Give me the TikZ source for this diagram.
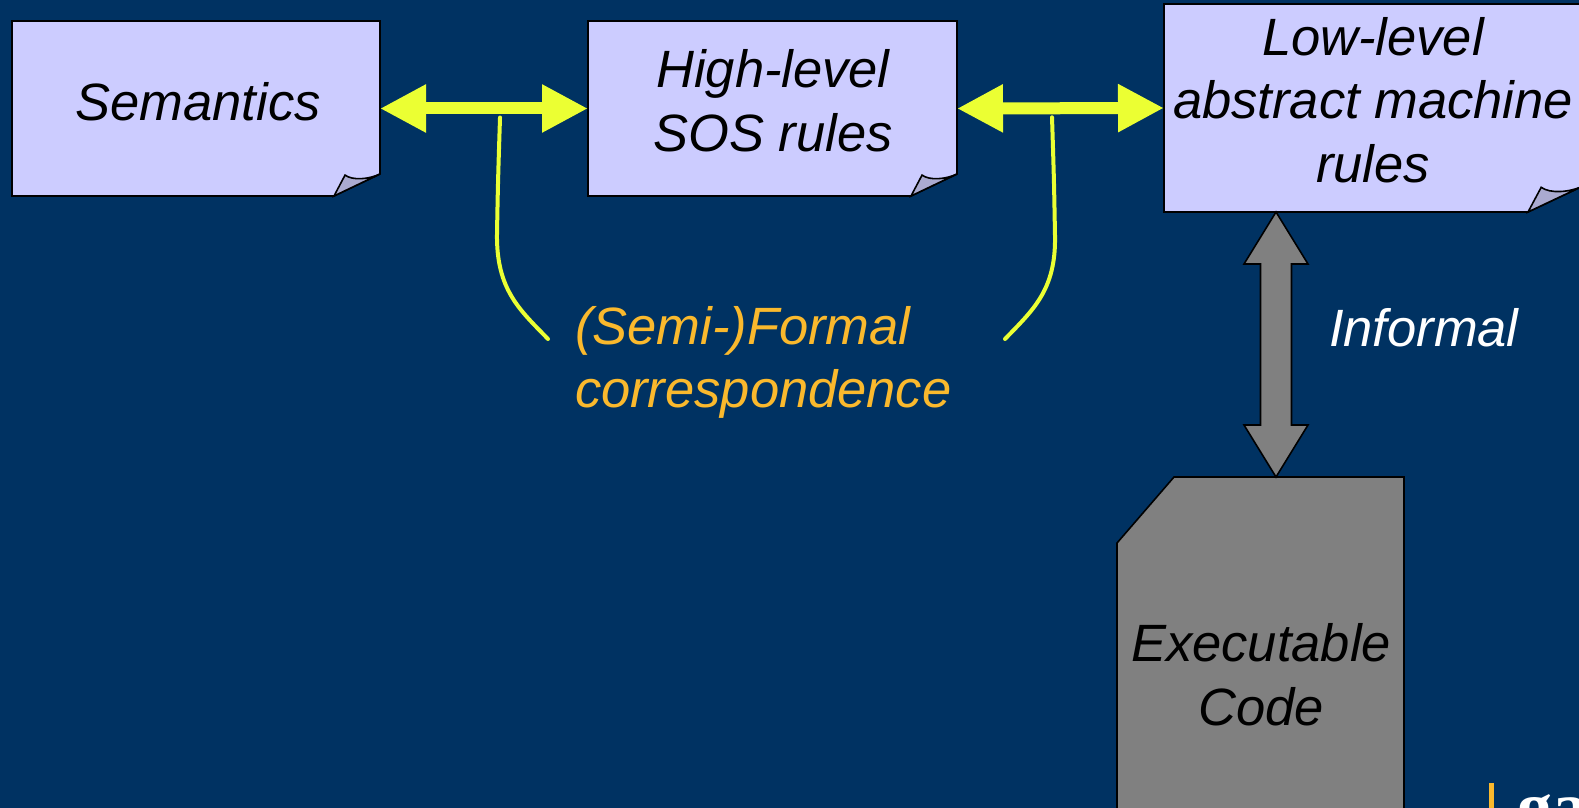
\documentclass[tikz,border=0pt]{standalone}
\usepackage{fontspec}
\setmainfont{Liberation Sans}
\newfontfamily\logoserif{Liberation Serif}
\usetikzlibrary{arrows.meta,calc}

\pgfdeclarelayer{background}
\pgfdeclarelayer{paper}
\pgfsetlayers{background,paper,main}

\definecolor{slidebg}{RGB}{0,50,98}
\definecolor{notefill}{RGB}{204,204,255}
\definecolor{flapfill}{RGB}{170,170,208}
\definecolor{linkyellow}{RGB}{235,255,51}
\definecolor{corrorange}{RGB}{250,185,45}
\definecolor{codegray}{RGB}{128,128,128}

\tikzset{
  frame/.style={inner sep=0pt, outer sep=0pt, draw=none},
  txt/.style={inner sep=0pt, outer sep=0pt, align=center,
    font=\fontsize{26.25}{31.6}\selectfont\itshape},
  edgeline/.style={draw=black, line width=0.8pt, line join=miter},
  ylink/.style={draw=linkyellow, line width=6pt,
    {Triangle[length=23pt,width=22.5pt]}-{Triangle[length=23pt,width=22.5pt]}},
  ycurve/.style={draw=linkyellow, line width=2pt, line cap=round},
  garrow/.style={fill=codegray, draw=black, line width=0.8pt, line join=miter}
}

% note sheet with a curled lower right corner: node name, curl width, curl height
\newcommand\foldnote[3]{%
  \begin{pgfonlayer}{paper}
    \filldraw[edgeline, fill=notefill] (#1.north west) -- (#1.north east)
      -- ($(#1.south east)+(0,-#3)$) -- ($(#1.south east)+(-#2,0)$)
      -- (#1.south west) -- cycle;
    \filldraw[edgeline, fill=flapfill] ($(#1.south east)+(-#2,0)$)
      -- ($(#1.south east)+({-0.76*#2},{-0.95*#3})$)
      .. controls ($(#1.south east)+({-0.6*#2},{-0.7*#3})$)
         and ($(#1.south east)+({-0.25*#2},{-0.75*#3})$)
      .. ($(#1.south east)+(0,-#3)$) -- cycle;
  \end{pgfonlayer}}

\begin{document}
\begin{tikzpicture}[x=0.5pt, y=-0.5pt]
  \useasboundingbox (0,0) rectangle (1579,808);
  \clip (0,0) rectangle (1579,808);
  \begin{pgfonlayer}{background}
    \fill[slidebg] (0,0) rectangle (1579,808);
  \end{pgfonlayer}

  % sheets
  \node[frame, minimum width=184pt, minimum height=87.5pt] (sem) at (196,108.5) {};
  \node[frame, minimum width=184.5pt, minimum height=87.5pt] (sos) at (772.5,108.5) {};
  \node[frame, minimum width=209.5pt, minimum height=104pt] (low) at (1373.5,108) {};
  \node[frame, minimum width=143.5pt, minimum height=211.5pt] (exe) at (1260.5,688.5) {};

  \foldnote{sem}{46}{22}
  \foldnote{sos}{46}{22}
  \foldnote{low}{55}{26}

  % code card with a clipped corner
  \begin{pgfonlayer}{paper}
    \filldraw[edgeline, fill=codegray] ($(exe.north west)+(57,0)$) -- (exe.north east)
      -- (exe.south east) -- (exe.south west) -- ($(exe.north west)+(0,66)$) -- cycle;
  \end{pgfonlayer}

  % texts (base anchor = baseline of the last line)
  \node[txt, anchor=base] (semtxt) at (198,120) {Semantics};
  \node[txt, anchor=base] (sostxt) at (773,151) {High-level\\SOS rules};
  \node[txt, anchor=base] (lowtxt) at (1373,182) {Low-level\\abstract machine\\rules};
  \node[txt, anchor=base] (exetxt) at (1261,725) {Executable\\Code};
  \node[txt, anchor=base west, align=left, text=corrorange] (corr) at (575,407.5)
    {(Semi-)Formal\\correspondence};
  \node[txt, anchor=base west, text=white] (inf) at (1329,346) {Informal};

  % yellow links between the rule sets
  \draw[ylink] (sem.east) -- (sos.west);
  \draw[ylink] (sos.east) -- (low.west);

  % leader lines to the correspondence label
  \coordinate (k1) at ($(sem.east)!0.577!(sos.west)+(0,9)$);
  \coordinate (k1e) at (548,339);
  \coordinate (k2) at ($(sos.east)!0.459!(low.west)+(0,9)$);
  \coordinate (k2e) at (1005,339);
  \draw[ycurve] (k1) .. controls (498,180) .. (497,233)
    .. controls (496,290) and (520,310) .. (k1e);
  \draw[ycurve] (k2) .. controls (1054,180) .. (1055,236)
    .. controls (1056,290) and (1033,310) .. (k2e);

  % grey two-headed arrow down to the code
  \coordinate (gtop) at ($(low.south west)+(112,0)$);
  \coordinate (gbot) at (gtop |- exe.north);
  \filldraw[garrow] (gtop) -- ++(32,52) -- ++(-16.5,0) -- ($(gbot)+(15.5,-52)$)
    -- ++(16.5,0) -- (gbot) -- ++(-32,-52) -- ++(16.5,0) -- ($(gtop)+(-15.5,52)$)
    -- ++(-16.5,0) -- cycle;

  % logo fragment, lower right
  \fill[corrorange] (1489,783) rectangle (1494,808);
  \node[inner sep=0pt, anchor=base west, text=white,
    font=\fontsize{35}{35}\selectfont\logoserif\bfseries] (logo) at (1517,830) {ga};
\end{tikzpicture}
\end{document}
